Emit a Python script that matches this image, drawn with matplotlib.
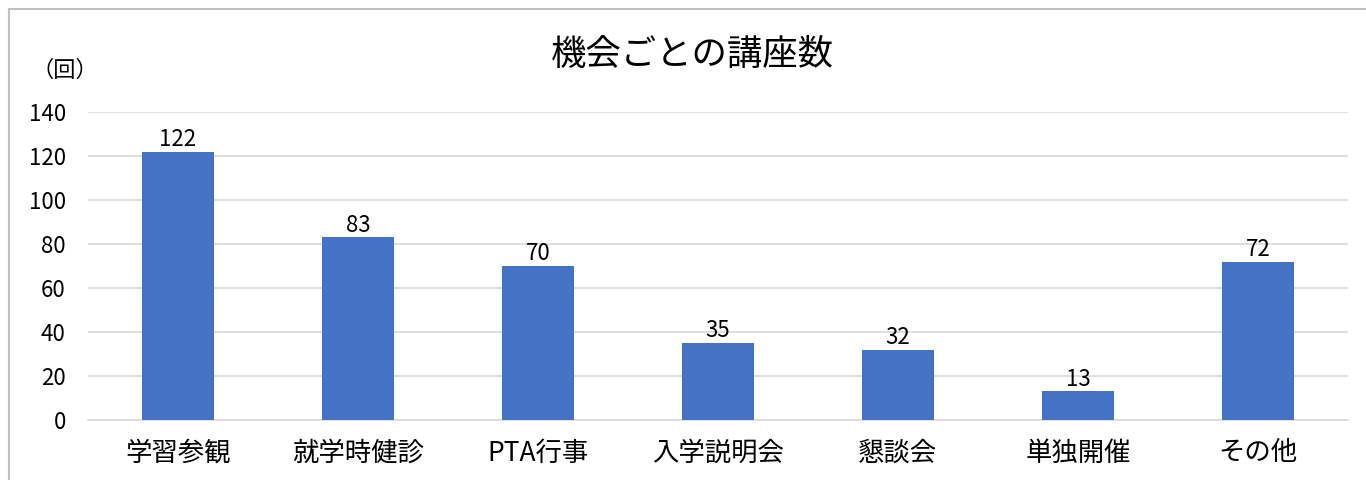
import matplotlib.pyplot as plt
from matplotlib.patches import Rectangle

plt.rcParams['font.family'] = ['Noto Sans CJK JP', 'DejaVu Sans']

categories = ["学習参観", "就学時健診", "PTA行事", "入学説明会", "懇談会", "単独開催", "その他"]
counts = [122, 83, 70, 35, 32, 13, 72]

fig = plt.figure(figsize=(13.66, 4.8), dpi=100)
ax = fig.add_axes([88/1366, 60/480, 1260/1366, 308/480])

x = range(len(categories))
bars = ax.bar(x, counts, width=0.4, color="#4472C4", zorder=3)
for b, v in zip(bars, counts):
    ax.text(b.get_x() + b.get_width()/2, v + 0.3, str(v), ha="center", va="bottom",
            fontsize=16, color="black")

ax.set_xlim(-0.5, len(categories) - 0.5)
ax.set_ylim(0, 140)
ax.set_yticks(range(0, 141, 20))
ax.set_xticks(list(x))
ax.set_xticklabels(categories, fontsize=19)
ax.tick_params(axis="y", labelsize=16, length=0, pad=16)
ax.tick_params(axis="x", length=0, pad=14)
ax.yaxis.grid(True, color="#D9D9D9", linewidth=1.2, zorder=0)
for s in ["top", "right", "left"]:
    ax.spines[s].set_visible(False)
ax.spines["bottom"].set_color("#D9D9D9")
ax.spines["bottom"].set_linewidth(1.2)

fig.text(692/1366, 1 - 55/480, "機会ごとの講座数", ha="center", va="center", fontsize=25.5)
fig.text(65/1366, 1 - 70/480, "（回）", ha="center", va="center", fontsize=16)

fig.patches.append(Rectangle((9/1366, -0.1), 1.2, 1 - 9/480 + 0.1, transform=fig.transFigure,
                             fill=False, edgecolor="#BFBFBF", linewidth=1.5))

fig.savefig("out.png", dpi=100)
